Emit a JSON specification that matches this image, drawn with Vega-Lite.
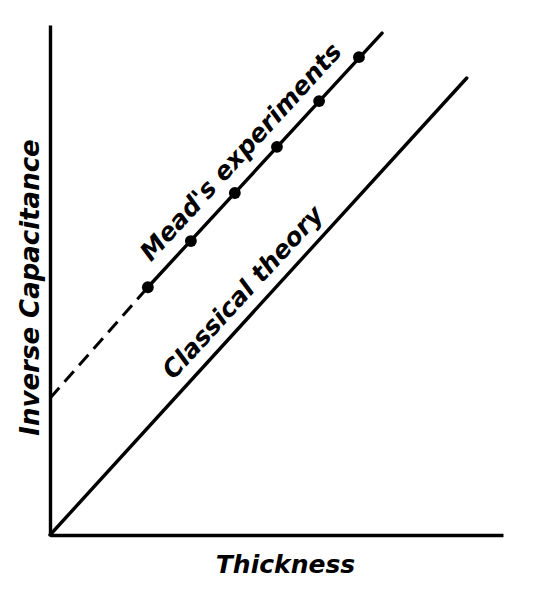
{
  "$schema": "https://vega.github.io/schema/vega-lite/v6.json",
  "width": 453,
  "height": 510,
  "autosize": {"type": "none"},
  "padding": {"left": 50, "top": 25, "right": 49, "bottom": 55},
  "background": "white",
  "config": {"view": {"stroke": null}},
  "datasets": {
    "lines": [
      {"series": "classical", "part": "solid", "x": 0, "y": 0},
      {"series": "classical", "part": "solid", "x": 9.2, "y": 10.09},
      {"series": "mead", "part": "dashed", "x": 0, "y": 3.02},
      {"series": "mead", "part": "dashed", "x": 2.16, "y": 5.47},
      {"series": "mead", "part": "solid", "x": 2.16, "y": 5.47},
      {"series": "mead", "part": "solid", "x": 7.33, "y": 11.08}
    ],
    "points": [
      {"x": 2.16, "y": 5.47},
      {"x": 3.11, "y": 6.49},
      {"x": 4.08, "y": 7.55},
      {"x": 5.01, "y": 8.57},
      {"x": 5.94, "y": 9.58},
      {"x": 6.82, "y": 10.55}
    ],
    "labels": [
      {"text": "Mead's experiments", "x": 4.22, "y": 8.45},
      {"text": "Classical theory", "x": 4.26, "y": 5.35}
    ]
  },
  "layer": [
    {
      "data": {"name": "lines"},
      "transform": [{"filter": "datum.part === 'solid'"}],
      "mark": {"type": "line", "color": "black", "strokeWidth": 3.4, "strokeCap": "round"},
      "encoding": {
        "x": {"field": "x", "type": "quantitative", "scale": {"domain": [0, 10], "nice": false, "zero": false},
              "axis": {"title": "Thickness", "labels": false, "ticks": false, "grid": false, "domainColor": "black", "domainWidth": 3.4,
                       "titleFont": "DejaVu Sans", "titleFontSize": 25, "titleFontWeight": "bold", "titleFontStyle": "italic", "titleColor": "black",
                       "titleX": 235, "titleY": 37, "titleBaseline": "alphabetic", "titleAlign": "center"}},
        "y": {"field": "y", "type": "quantitative", "scale": {"domain": [0, 11.26], "nice": false, "zero": false},
              "axis": {"title": "Inverse Capacitance", "labels": false, "ticks": false, "grid": false, "domainColor": "black", "domainWidth": 3.4,
                       "titleFont": "DejaVu Sans", "titleFontSize": 26, "titleFontWeight": "bold", "titleFontStyle": "italic", "titleColor": "black",
                       "titleAngle": -90, "titleX": -12, "titleY": 262, "titleBaseline": "alphabetic", "titleAlign": "center"}},
        "detail": {"field": "series"}
      }
    },
    {
      "data": {"name": "lines"},
      "transform": [{"filter": "datum.part === 'dashed'"}],
      "mark": {"type": "line", "color": "black", "strokeWidth": 3, "strokeDash": [14, 8]},
      "encoding": {
        "x": {"field": "x", "type": "quantitative"},
        "y": {"field": "y", "type": "quantitative"}
      }
    },
    {
      "data": {"name": "points"},
      "mark": {"type": "circle", "color": "black", "opacity": 1, "size": 140},
      "encoding": {
        "x": {"field": "x", "type": "quantitative"},
        "y": {"field": "y", "type": "quantitative"}
      }
    },
    {
      "data": {"name": "labels"},
      "mark": {"type": "text", "color": "black", "font": "DejaVu Sans", "fontSize": 25, "fontWeight": "bold", "fontStyle": "italic", "angle": -47.5, "align": "center", "baseline": "middle"},
      "encoding": {
        "x": {"field": "x", "type": "quantitative"},
        "y": {"field": "y", "type": "quantitative"},
        "text": {"field": "text"}
      }
    }
  ]
}
